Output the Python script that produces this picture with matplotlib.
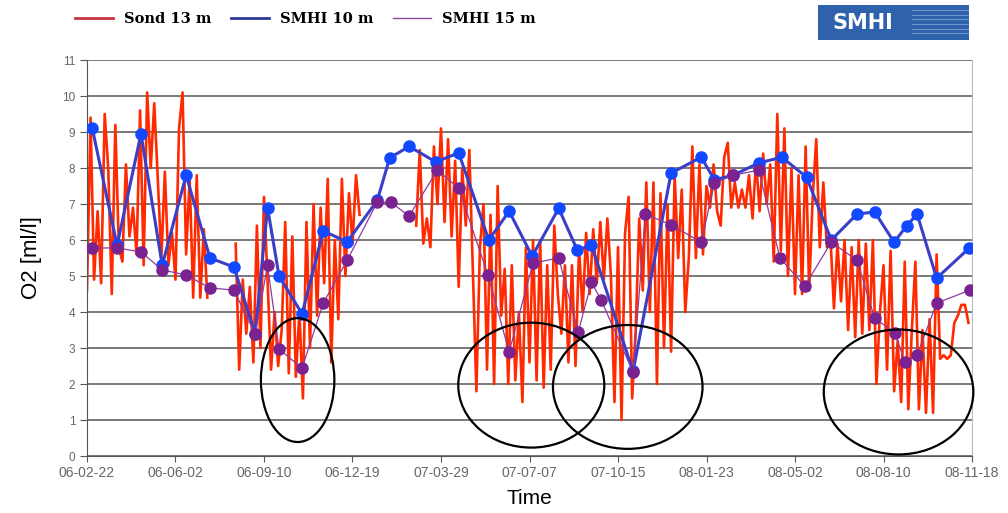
import numpy as np
import pandas as pd
import matplotlib
matplotlib.use("Agg")
import matplotlib.pyplot as plt
import matplotlib.dates as mdates
from matplotlib.patches import Ellipse, Rectangle
from matplotlib.lines import Line2D

# Sond 13 m: one reading every 4 days from 2006-02-22, NaN where the probe had no data
red_start = "2006-02-22"
red_values = [
    4.6, 9.4, 4.9, 6.8, 4.8, 9.5, 8.0, 4.5, 9.2, 5.8, 5.4, 8.1, 6.1, 6.9, 5.6, 9.6, 5.3, 10.1,
    8.0, 9.8, 7.7, 5.5, 7.9, 5.3, 6.2, 4.9, 9.1, 10.1, 5.6, 7.7, 4.4, 7.8, 4.4, 6.3, 4.4,
    np.nan, np.nan, np.nan, np.nan, np.nan, np.nan, np.nan,
    5.9, 2.4, 4.9, 3.4, 4.7, 2.6, 6.4, 3.0, 7.2, 4.9, 2.4, 4.0, 2.5, 3.5, 6.5, 2.3, 6.1, 2.2,
    4.0, 1.6, 6.5, 3.0, 7.0, 3.9, 6.9, 4.8, 7.7, 2.6, 6.0, 3.8, 7.7, 5.0, 7.3, 5.9, 7.8, 6.7,
    np.nan, np.nan, np.nan, np.nan, np.nan, np.nan, np.nan, np.nan, np.nan, np.nan, np.nan,
    np.nan, np.nan, np.nan, np.nan,
    6.4, 8.5, 5.9, 6.6, 5.8, 8.6, 7.0, 9.1,
    6.5, 8.8, 6.1, 8.2, 4.7, 8.0, 6.4, 8.5, 5.2, 1.8, 5.8, 7.0, 2.4, 6.7, 2.0, 7.5, 3.9, 5.2,
    2.0, 5.3, 2.1, 4.0, 1.5, 5.8, 2.6, 6.0, 2.1, 6.0, 1.9, 5.3, 2.4, 6.4, 4.5, 3.4, 5.3, 2.6,
    5.3, 2.5, 5.8, 4.0, 6.2, 4.5, 6.3, 4.8, 6.5, 4.9, 6.6, 5.0, 1.5, 5.8,
    1.0, 6.2, 7.2, 1.6, 3.5, 6.6, 4.6, 7.6, 4.0, 7.6, 2.0, 7.3, 3.0, 7.0, 2.9, 7.8, 5.5, 7.4,
    4.0, 5.5, 8.6, 5.5, 8.1, 5.6, 7.5, 6.9, 8.1, 6.8, 6.4, 8.3, 8.7, 6.9, 7.6, 6.9, 7.4, 6.9,
    7.8, 6.6, 8.2, 6.8, 8.4, 7.0, 8.1, 5.4, 9.5, 5.7, 9.1, 5.0, 8.0, 4.5, 7.8,
    4.5, 8.6, 4.6, 7.2, 8.8, 5.8, 7.6, 5.8, 6.1, 4.1, 5.9, 4.3, 6.0, 3.5, 5.8, 3.3, 6.0, 3.4,
    5.9, 3.5, 6.0, 2.0, 4.0, 5.3, 2.4, 5.7, 1.8, 3.2, 1.5, 5.4, 1.3, 3.5, 5.4, 1.3, 3.5, 1.2,
    3.8, 1.2, 5.6, 2.7, 2.8, 2.7, 2.8, 3.7, 3.9, 4.2, 4.2, 3.7,
]

# SMHI 10 m
blue_dates = [
    "2006-02-28", "2006-03-28", "2006-04-24", "2006-05-18", "2006-06-14", "2006-07-11",
    "2006-08-07", "2006-08-31", "2006-09-14", "2006-09-27", "2006-10-23", "2006-11-16",
    "2006-12-13", "2007-01-16", "2007-01-30", "2007-02-21", "2007-03-23", "2007-04-18",
    "2007-05-22", "2007-06-14", "2007-07-10", "2007-08-09", "2007-08-30", "2007-09-15",
    "2007-11-01", "2007-12-14", "2008-01-17", "2008-02-01", "2008-02-22", "2008-03-22",
    "2008-04-17", "2008-05-15", "2008-06-12", "2008-07-11", "2008-07-31", "2008-08-22",
    "2008-09-05", "2008-09-17", "2008-10-09", "2008-11-15",
]
blue_values = [
    9.1, 5.85, 8.95, 5.3, 7.8, 5.5, 5.25, 3.4, 6.9, 5.0, 3.95, 6.25, 5.95, 7.1, 8.28, 8.6,
    8.17, 8.42, 6.0, 6.8, 5.55, 6.88, 5.72, 5.86, 2.35, 7.86, 8.3, 7.67, 7.8, 8.14, 8.3, 7.75,
    6.0, 6.72, 6.78, 5.94, 6.39, 6.72, 4.94, 5.78,
]

# SMHI 15 m
purple_dates = [
    "2006-02-28", "2006-03-28", "2006-04-24", "2006-05-18", "2006-06-14", "2006-07-11",
    "2006-08-07", "2006-08-31", "2006-09-14", "2006-09-27", "2006-10-23", "2006-11-16",
    "2006-12-13", "2007-01-16", "2007-01-31", "2007-02-21", "2007-03-25", "2007-04-18",
    "2007-05-21", "2007-06-14", "2007-07-11", "2007-08-09", "2007-08-31", "2007-09-15",
    "2007-09-26", "2007-11-01", "2007-11-15", "2007-12-14", "2008-01-17", "2008-02-01",
    "2008-02-22", "2008-03-22", "2008-04-15", "2008-05-13", "2008-06-12", "2008-07-11",
    "2008-07-31", "2008-08-23", "2008-09-03", "2008-09-17", "2008-10-09", "2008-11-16",
]
purple_values = [
    5.78, 5.78, 5.67, 5.17, 5.03, 4.67, 4.61, 3.39, 5.3, 2.97, 2.44, 4.25, 5.44, 7.05, 7.05,
    6.67, 7.94, 7.44, 5.03, 2.89, 5.36, 5.5, 3.44, 4.83, 4.33, 2.33, 6.72, 6.42, 5.94, 7.58,
    7.8, 7.94, 5.5, 4.72, 5.94, 5.44, 3.83, 3.42, 2.61, 2.81, 4.25, 4.61,
]

# hand-drawn circles marking the low-oxygen periods
circle_dates = ["2006-10-18", "2007-07-09", "2007-10-26", "2008-08-27"]
circle_levels = [2.11, 1.97, 1.92, 1.78]
circle_widths_days = [83, 165, 169, 169]
circle_heights = [3.44, 3.47, 3.44, 3.47]

x_ticks = pd.date_range("2006-02-22", "2008-11-18", freq="100D")

red_dates = pd.date_range(red_start, periods=len(red_values), freq="4D")

fig = plt.figure(figsize=(10.08, 5.13), dpi=100)
ax = fig.add_axes([0.0863, 0.111, 0.878, 0.772])

ax.plot(red_dates, red_values, color="#ff2a00", lw=1.9, zorder=2)
ax.plot(pd.to_datetime(blue_dates), blue_values, color="#3b3fc8", lw=2.2,
        marker="o", ms=8, mfc="#1248ff", mec="#1248ff", zorder=3)
ax.plot(pd.to_datetime(purple_dates), purple_values, color="#8e3aa0", lw=0.9,
        marker="o", ms=8, mfc="#7a2390", mec="#7a2390", zorder=4)

for d, lev, w, h in zip(circle_dates, circle_levels, circle_widths_days, circle_heights):
    ax.add_patch(Ellipse((mdates.date2num(pd.Timestamp(d)), lev), w, h,
                         fill=False, ec="black", lw=1.6, zorder=5, clip_on=False))

ax.set_xlim(x_ticks[0], x_ticks[-1])
ax.set_ylim(0, 11)
ax.set_yticks(range(0, 12))
ax.set_xticks(x_ticks)
ax.xaxis.set_major_formatter(mdates.DateFormatter("%y-%m-%d"))

ax.yaxis.grid(True, color="#555555", lw=1.1)
ax.set_axisbelow(True)
ax.spines["top"].set_visible(False)
ax.spines["right"].set_color("#bbbbbb")
ax.spines["left"].set_color("#555555")
ax.spines["bottom"].set_color("#555555")
ax.tick_params(axis="y", labelsize=8.5, labelcolor="#666666", color="#555555", length=5)
ax.tick_params(axis="x", labelsize=10, labelcolor="#666666", color="#555555", length=4)
for lab in ax.get_xticklabels() + ax.get_yticklabels():
    lab.set_family("Liberation Sans")

ax.set_ylabel("O2 [ml/l]", fontsize=16, family="Liberation Sans", labelpad=14)
ax.set_xlabel("Time", fontsize=15, family="Liberation Sans", labelpad=6)

handles = [
    Line2D([], [], color="#c8323c", lw=2),
    Line2D([], [], color="#2d3a9a", lw=2),
    Line2D([], [], color="#8a4a98", lw=1),
]
fig.legend(handles, ["Sond 13 m", "SMHI 10 m", "SMHI 15 m"], loc="center",
           bbox_to_anchor=(0.303, 0.963), ncol=3, frameon=False, handlelength=2.6,
           columnspacing=1.3, prop=dict(family="DejaVu Serif", weight="bold", size=10.5))

# SMHI logo box
fig.patches.append(Rectangle((0.812, 0.922), 0.149, 0.068, transform=fig.transFigure,
                             fc="#2e62ab", ec="none"))
for k in range(6):
    fig.lines.append(Line2D([0.905, 0.960], [0.935 + k * 0.009] * 2, transform=fig.transFigure,
                            color="#6f95cc", lw=0.8))
fig.text(0.826, 0.956, "SMHI", color="white", fontsize=15, weight="heavy",
         family="DejaVu Sans", va="center", ha="left")

fig.savefig("out.png", dpi=100)
